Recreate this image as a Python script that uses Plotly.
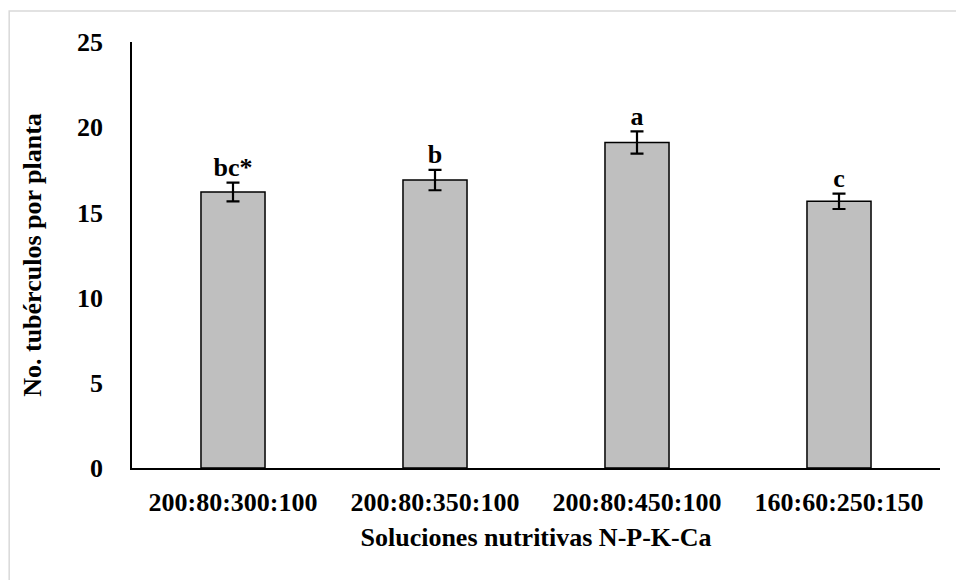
import plotly.graph_objects as go

categories = ["200:80:300:100", "200:80:350:100", "200:80:450:100", "160:60:250:150"]
means = [16.2, 16.9, 19.1, 15.65]
errors = [0.55, 0.6, 0.65, 0.45]
letters = ["bc*", "b", "a", "c"]

FONT = "Liberation Serif"
FS = 26

fig = go.Figure()
fig.add_trace(go.Bar(
    x=categories, y=means,
    marker=dict(color="#bfbfbf", line=dict(color="black", width=1.5)),
    width=0.317,
    error_y=dict(type="data", array=errors, visible=True, color="black", thickness=2.2, width=6.5),
    showlegend=False, hoverinfo="skip",
))
fig.add_trace(go.Scatter(
    x=categories, y=[m + e for m, e in zip(means, errors)],
    mode="text", text=letters, textposition="top center",
    textfont=dict(family=FONT, size=FS, color="black"),
    texttemplate="<b>%{text}</b>",
    showlegend=False, hoverinfo="skip",
))

fig.add_shape(type="rect", xref="paper", yref="paper",
              x0=-0.152, x1=1.05, y0=-0.4, y1=1.0728,
              line=dict(color="#d9d9d9", width=1.5), fillcolor="rgba(0,0,0,0)", layer="below")

fig.update_layout(
    width=956, height=580,
    margin=dict(l=132, r=16, t=42, b=112),
    paper_bgcolor="white", plot_bgcolor="white",
    font=dict(family=FONT, size=FS, color="black"),
)
fig.update_xaxes(
    showline=True, linecolor="black", linewidth=1.5,
    ticks="", showgrid=False,
    tickfont=dict(family=FONT, size=FS, color="black"),
    ticklabelstandoff=10,
    title=dict(text="<b>Soluciones nutritivas N-P-K-Ca</b>", font=dict(family=FONT, size=FS), standoff=12),
    tickvals=categories, ticktext=["<b>%s</b>" % c for c in categories],
)
fig.update_yaxes(
    range=[0, 25], showline=True, linecolor="black", linewidth=1.5,
    ticks="", showgrid=False, zeroline=False,
    tickfont=dict(family=FONT, size=FS, color="black"),
    tickvals=[0, 5, 10, 15, 20, 25], ticktext=["<b>%d</b>" % v for v in [0, 5, 10, 15, 20, 25]],
    ticklabelstandoff=22,
    title=dict(text="<b>No. tubérculos por planta</b>", font=dict(family=FONT, size=FS), standoff=28),
)

fig.write_html("out.html", config={"displayModeBar": False},
               post_script="document.body.style.margin='0';")
